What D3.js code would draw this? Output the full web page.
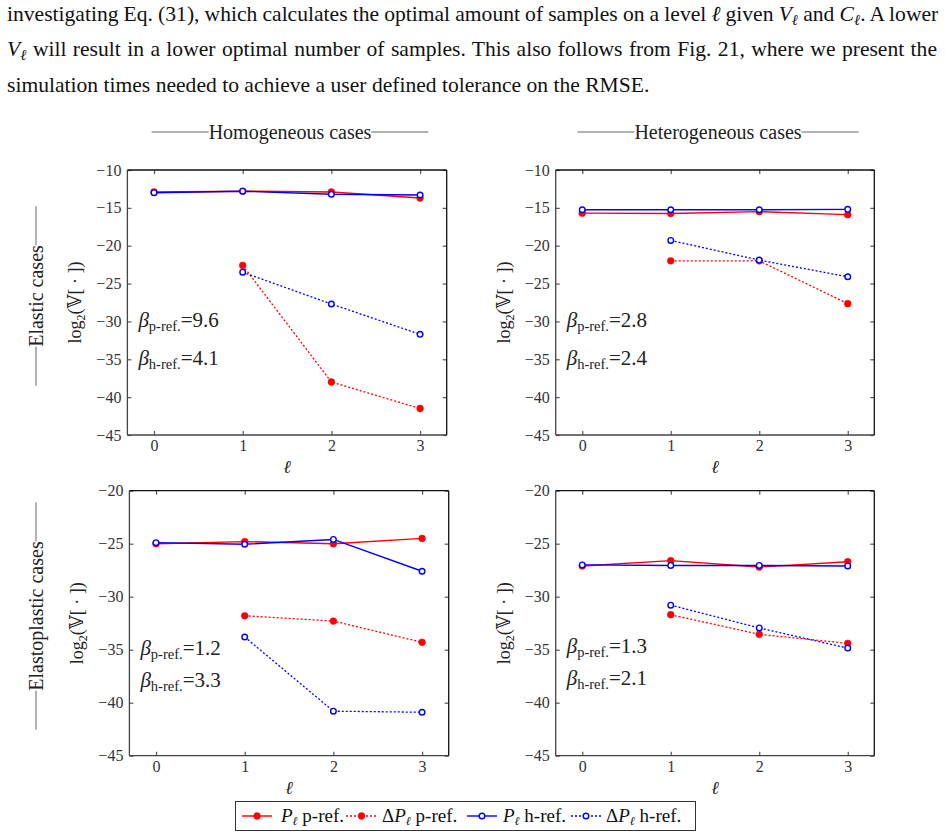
<!DOCTYPE html>
<html>
<head>
<meta charset="utf-8">
<script src="https://cdn.jsdelivr.net/npm/d3@7"></script>
<style>
  body { margin: 0; background: #fff; }
  svg { display: block; }
  svg text { font-family: "Liberation Serif", "DejaVu Serif", serif; }
</style>
</head>
<body>
<div id="chart"></div>
<script>
// levels on the x axis
var levels = [0, 1, 2, 3];
var xTicks = [0, 1, 2, 3];
var yTicksElastic = [-10, -15, -20, -25, -30, -35, -40, -45];
var yTicksPlastic = [-20, -25, -30, -35, -40, -45];

var colTitles = ["Homogeneous cases", "Heterogeneous cases"];
var rowTitles = ["Elastic cases", "Elastoplastic cases"];
var seriesNames = ["p-ref.", "p-ref.", "h-ref.", "h-ref."];

// Homogeneous, elastic
var homElasticPp  = [-12.9, -12.8, -12.9, -13.7];
var homElasticDPp = [null, -22.6, -38.0, -41.5];
var homElasticPh  = [-13.0, -12.8, -13.2, -13.3];
var homElasticDPh = [null, -23.5, -27.7, -31.7];
var homElasticBeta = [9.6, 4.1];

// Heterogeneous, elastic
var hetElasticPp  = [-15.7, -15.75, -15.5, -15.9];
var hetElasticDPp = [null, -22.0, -22.0, -27.65];
var hetElasticPh  = [-15.25, -15.25, -15.25, -15.2];
var hetElasticDPh = [null, -19.3, -21.9, -24.1];
var hetElasticBeta = [2.8, 2.4];

// Homogeneous, elastoplastic
var homPlasticPp  = [-25.0, -24.8, -25.0, -24.5];
var homPlasticDPp = [null, -31.8, -32.3, -34.3];
var homPlasticPh  = [-24.9, -25.05, -24.6, -27.6];
var homPlasticDPh = [null, -33.8, -40.8, -40.9];
var homPlasticBeta = [1.2, 3.3];

// Heterogeneous, elastoplastic
var hetPlasticPp  = [-27.1, -26.6, -27.2, -26.7];
var hetPlasticDPp = [null, -31.7, -33.55, -34.4];
var hetPlasticPh  = [-27.0, -27.05, -27.05, -27.1];
var hetPlasticDPh = [null, -30.8, -32.95, -34.85];
var hetPlasticBeta = [1.3, 2.1];

var W = 945, H = 838;
var RED = "#ff0000", BLUE = "#0000ff";
var SERIF = "Liberation Serif, DejaVu Serif, serif";

var svg = d3.select("#chart").append("svg")
    .attr("width", W)
    .attr("height", H);

// ---- paragraph above the figure ----
var para = [
    { x: 7, y: 20.5, len: 931, justify: true, parts: [
        ["investigating Eq. (31), which calculates the optimal amount of samples on a level ", ""],
        ["ℓ", "i"], [" given ", ""], ["V", "i"], ["ℓ", "s"], [" and ", ""], ["C", "i"], ["ℓ", "s"],
        [".  A lower", ""] ] },
    { x: 7, y: 56, len: 931, justify: true, parts: [
        ["V", "i"], ["ℓ", "s"],
        [" will result in a lower optimal number of samples.  This also follows from Fig. 21, where we present the", ""] ] },
    { x: 7, y: 91.5, len: 643, justify: false, parts: [
        ["simulation times needed to achieve a user defined tolerance on the RMSE.", ""] ] }
];

function addParts(textSel, parts, subSize) {
    var shifted = false;
    parts.forEach(function(p) {
        var t = textSel.append("tspan").text(p[0]);
        if (p[1] === "i") {
            t.style("font-style", "italic");
            if (shifted) { t.attr("dy", -4); shifted = false; }
        } else if (p[1] === "s") {
            t.style("font-style", "italic").style("font-size", subSize + "px").attr("dy", 4);
            shifted = true;
        } else if (shifted) {
            t.attr("dy", -4);
            shifted = false;
        }
    });
}

// font size chosen so the last (unjustified) line has its natural width
var probe = svg.append("text").style("font-family", SERIF).style("font-size", "20px")
    .text(para[2].parts[0][0]);
var paraSize = 20 * para[2].len / probe.node().getComputedTextLength();
probe.remove();

para.forEach(function(line) {
    var t = svg.append("text")
        .attr("x", line.x)
        .attr("y", line.y)
        .style("font-family", SERIF)
        .style("font-size", paraSize + "px")
        .attr("fill", "#111");
    addParts(t, line.parts, paraSize * 0.7);
    if (line.justify) {
        // stretch the word gaps, like a justified paragraph
        var w = t.node().getComputedTextLength();
        var gaps = line.parts.map(function(p) { return p[0]; }).join("").split(" ").length - 1;
        t.style("word-spacing", ((line.len - w) / gaps) + "px");
    }
});

// ---- panels ----
var panels = [
    { left: 127.4, right: 446.7, top: 170, bottom: 435, domain: [-45, -10], ticks: yTicksElastic,
      series: [homElasticPp, homElasticDPp, homElasticPh, homElasticDPh], beta: homElasticBeta, betaDy: [157, 195] },
    { left: 555.7, right: 874.3, top: 170, bottom: 435, domain: [-45, -10], ticks: yTicksElastic,
      series: [hetElasticPp, hetElasticDPp, hetElasticPh, hetElasticDPh], beta: hetElasticBeta, betaDy: [157, 195] },
    { left: 129.4, right: 448.7, top: 490.7, bottom: 755.7, domain: [-45, -20], ticks: yTicksPlastic,
      series: [homPlasticPp, homPlasticDPp, homPlasticPh, homPlasticDPh], beta: homPlasticBeta, betaDy: [164, 196] },
    { left: 555.7, right: 874.3, top: 490.7, bottom: 755.7, domain: [-45, -20], ticks: yTicksPlastic,
      series: [hetPlasticPp, hetPlasticDPp, hetPlasticPh, hetPlasticDPh], beta: hetPlasticBeta, betaDy: [162, 194] }
];

// p-ref solid, p-ref dotted, h-ref solid, h-ref dotted
var styles = [
    { color: RED, dash: null, filled: true },
    { color: RED, dash: "2,2", filled: true },
    { color: BLUE, dash: null, filled: false },
    { color: BLUE, dash: "2,2", filled: false }
];

function drawMarker(g, x, y, st) {
    g.append("circle")
        .attr("cx", x).attr("cy", y)
        .attr("r", st.filled ? 3.4 : 2.8)
        .attr("fill", st.filled ? st.color : "#fff")
        .attr("stroke", st.color)
        .attr("stroke-width", st.filled ? 0.5 : 1.4);
}

panels.forEach(function(p) {
    var x = d3.scaleLinear().domain([-0.3, 3.3]).range([p.left, p.right]);
    var y = d3.scaleLinear().domain(p.domain).range([p.bottom, p.top]);

    var g = svg.append("g");

    var axisStyle = function(sel) {
        sel.attr("font-family", null).attr("font-size", null);
        sel.select(".domain").remove();
        sel.selectAll(".tick line").attr("stroke", "#555").attr("stroke-width", 1.2);
        sel.selectAll(".tick text")
            .style("font-family", SERIF)
            .style("font-size", "16px")
            .attr("fill", "#333");
    };

    g.append("g")
        .attr("transform", "translate(0," + p.bottom + ")")
        .call(d3.axisBottom(x).tickValues(xTicks).tickSizeInner(-4).tickSizeOuter(0).tickPadding(5).tickFormat(d3.format("d")))
        .call(axisStyle);
    g.append("g")
        .attr("transform", "translate(0," + p.top + ")")
        .call(d3.axisTop(x).tickValues(xTicks).tickSizeInner(-4).tickSizeOuter(0).tickFormat(""))
        .call(axisStyle);
    g.append("g")
        .attr("transform", "translate(" + p.left + ",0)")
        .call(d3.axisLeft(y).tickValues(p.ticks).tickSizeInner(-4).tickSizeOuter(0).tickPadding(6).tickFormat(d3.format("d")))
        .call(axisStyle);
    g.append("g")
        .attr("transform", "translate(" + p.right + ",0)")
        .call(d3.axisRight(y).tickValues(p.ticks).tickSizeInner(-4).tickSizeOuter(0).tickFormat(""))
        .call(axisStyle);

    // frame
    g.append("line").attr("x1", p.left).attr("x2", p.right).attr("y1", p.bottom).attr("y2", p.bottom)
        .attr("stroke", "#444").attr("stroke-width", 1.3);
    g.append("line").attr("x1", p.left).attr("x2", p.left).attr("y1", p.top).attr("y2", p.bottom)
        .attr("stroke", "#444").attr("stroke-width", 1.3);
    g.append("line").attr("x1", p.left).attr("x2", p.right).attr("y1", p.top).attr("y2", p.top)
        .attr("stroke", "#111").attr("stroke-width", 1.3);
    g.append("line").attr("x1", p.right).attr("x2", p.right).attr("y1", p.top).attr("y2", p.bottom)
        .attr("stroke", "#111").attr("stroke-width", 1.3);

    // series
    var line = d3.line()
        .defined(function(d) { return d[1] !== null; })
        .x(function(d) { return x(d[0]); })
        .y(function(d) { return y(d[1]); });

    p.series.forEach(function(vals, si) {
        var st = styles[si];
        var pts = levels.map(function(l, i) { return [l, vals[i]]; });
        g.append("path")
            .datum(pts)
            .attr("d", line)
            .attr("fill", "none")
            .attr("stroke", st.color)
            .attr("stroke-width", st.dash ? 1.3 : 1.4)
            .attr("stroke-dasharray", st.dash);
        pts.filter(function(d) { return d[1] !== null; }).forEach(function(d) {
            drawMarker(g, x(d[0]), y(d[1]), st);
        });
    });

    // beta annotations
    ["p-ref.", "h-ref."].forEach(function(lbl, i) {
        var t = g.append("text")
            .attr("x", p.left + 11)
            .attr("y", p.top + p.betaDy[i])
            .style("font-family", SERIF)
            .style("font-size", "21px")
            .attr("fill", "#222");
        t.append("tspan").text("β").style("font-style", "italic");
        t.append("tspan").text(lbl).style("font-size", "14.5px").attr("dy", 4);
        t.append("tspan").text("=" + p.beta[i].toFixed(1)).attr("dy", -4);
    });

    // axis labels
    g.append("text")
        .attr("x", (p.left + p.right) / 2)
        .attr("y", p.bottom + 38)
        .attr("text-anchor", "middle")
        .style("font-family", SERIF)
        .style("font-size", "18px")
        .style("font-style", "italic")
        .attr("fill", "#222")
        .text("ℓ");

    var yl = g.append("text")
        .attr("transform", "translate(" + (p.left - 46) + "," + ((p.top + p.bottom) / 2) + ") rotate(-90)")
        .attr("text-anchor", "middle")
        .style("font-family", SERIF)
        .style("font-size", "18px")
        .attr("fill", "#222");
    yl.append("tspan").text("log");
    yl.append("tspan").text("2").style("font-size", "12px").attr("dy", 4);
    yl.append("tspan").text("(𝕍[ · ])").attr("dy", -4);
});

// ---- column and row titles with dashes ----
function dashedTitle(cx, cy, label, dash, rotate) {
    var g = svg.append("g")
        .attr("transform", "translate(" + cx + "," + cy + ")" + (rotate ? " rotate(-90)" : ""));
    var t = g.append("text")
        .attr("text-anchor", "middle")
        .attr("dy", "0.35em")
        .style("font-family", SERIF)
        .style("font-size", "20px")
        .attr("fill", "#222")
        .text(label);
    var w = t.node().getComputedTextLength();
    g.append("line").attr("x1", -w / 2 - dash).attr("x2", -w / 2).attr("y1", 0).attr("y2", 0)
        .attr("stroke", "#555").attr("stroke-width", 0.9);
    g.append("line").attr("x1", w / 2).attr("x2", w / 2 + dash).attr("y1", 0).attr("y2", 0)
        .attr("stroke", "#555").attr("stroke-width", 0.9);
}

dashedTitle(290, 132, colTitles[0], 57, false);
dashedTitle(718, 132, colTitles[1], 57, false);
dashedTitle(36, 296, rowTitles[0], 39, true);
dashedTitle(36, 616, rowTitles[1], 39, true);

// ---- legend ----
var legend = svg.append("g");
legend.append("rect")
    .attr("x", 235.5).attr("y", 801.5)
    .attr("width", 460).attr("height", 29)
    .attr("fill", "#fff")
    .attr("stroke", "#333")
    .attr("stroke-width", 1);

var legendItems = [
    { x0: 242, x1: 272, tx: 281, delta: false },
    { x0: 346, x1: 377, tx: 382, delta: true },
    { x0: 467, x1: 497, tx: 503, delta: false },
    { x0: 571, x1: 601, tx: 606, delta: true }
];
var ly = 816;
legendItems.forEach(function(it, i) {
    var st = styles[i];
    legend.append("line")
        .attr("x1", it.x0).attr("x2", it.x1).attr("y1", ly).attr("y2", ly)
        .attr("stroke", st.color)
        .attr("stroke-width", 1.4)
        .attr("stroke-dasharray", st.dash);
    drawMarker(legend, (it.x0 + it.x1) / 2, ly, st);
    var t = legend.append("text")
        .attr("x", it.tx).attr("y", ly + 6)
        .style("font-family", SERIF)
        .style("font-size", "19px")
        .attr("fill", "#111");
    if (it.delta) t.append("tspan").text("Δ");
    t.append("tspan").text("P").style("font-style", "italic");
    t.append("tspan").text("ℓ").style("font-style", "italic").style("font-size", "12px").attr("dy", 3);
    t.append("tspan").text(" " + seriesNames[i]).attr("dy", -3);
});
</script>
</body>
</html>
